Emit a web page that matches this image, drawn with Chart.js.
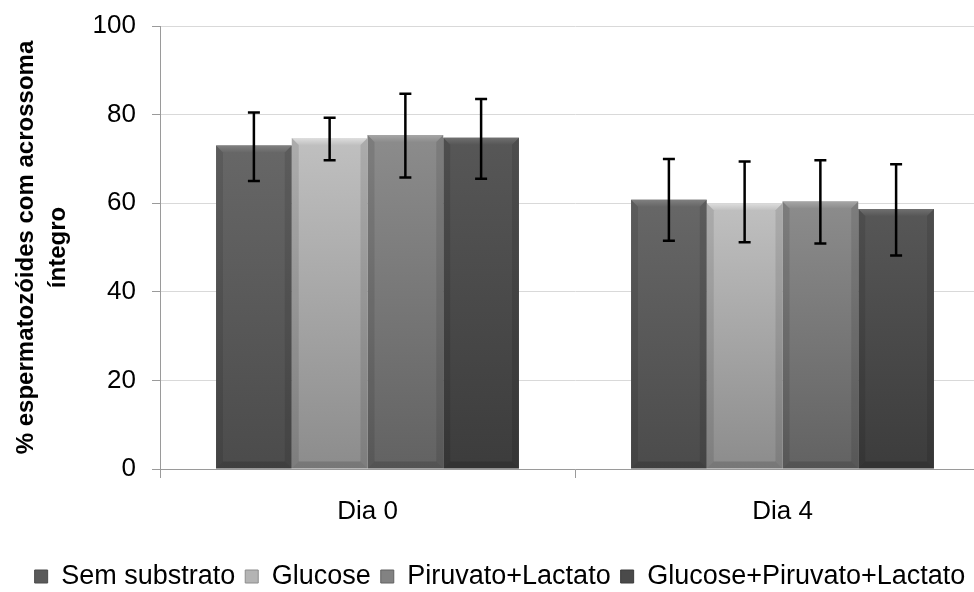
<!DOCTYPE html>
<html>
<head>
<meta charset="utf-8">
<script src="https://cdn.jsdelivr.net/npm/chart.js@4/dist/chart.umd.min.js"></script>
<style>
  html, body { margin: 0; padding: 0; background: #fff; overflow: hidden; width: 974px; height: 592px; }
  #wrap { width: 990px; height: 600px; }
</style>
</head>
<body>
<div id="wrap"><canvas id="grafica"></canvas></div>
<script>
const dias = ['Dia 0', 'Dia 4'];
const series = ['Sem substrato', 'Glucose', 'Piruvato+Lactato', 'Glucose+Piruvato+Lactato'];

const semSubstrato = [73.0, 60.8];
const glucose = [74.7, 60.0];
const piruvatoLactato = [75.4, 60.4];
const glucosePiruvatoLactato = [74.8, 58.7];

// extremos das barras de erro (superior / inferior)
const erroSuperior = [[80.5, 70.0], [79.3, 69.4], [84.7, 69.7], [83.5, 68.8]];
const erroInferior = [[65.0, 51.5], [69.7, 51.2], [65.8, 50.9], [65.5, 48.2]];

const yTicks = [0, 20, 40, 60, 80, 100];

// [topo, base, legenda, bisel]
const cores = [
    ['#676767', '#4b4b4b', '#5a5a5a', '#808080'],
    ['#c0c0c0', '#8c8c8c', '#b4b4b4', '#dedede'],
    ['#8c8c8c', '#626262', '#828282', '#a6a6a6'],
    ['#575757', '#3c3c3c', '#4a4a4a', '#707070']
];

const fonte = 'Liberation Sans, Arial, sans-serif';

function gradiente(i) {
    return function (ctx) {
        const chart = ctx.chart;
        const area = chart.chartArea;
        if (!area || !ctx.parsed) return cores[i][2];
        const topo = chart.scales.y.getPixelForValue(ctx.parsed.y);
        const g = chart.ctx.createLinearGradient(0, topo, 0, area.bottom);
        g.addColorStop(0, cores[i][0]);
        g.addColorStop(1, cores[i][1]);
        return g;
    };
}

// efeito de bisel nas barras
const bisel = {
    id: 'bisel',
    afterDatasetsDraw(chart) {
        const c = chart.ctx;
        chart.data.datasets.forEach((ds, i) => {
            chart.getDatasetMeta(i).data.forEach(bar => {
                const l = bar.x - bar.width / 2, r = bar.x + bar.width / 2;
                const t = bar.y, b = bar.base, e = 7;
                c.save();
                const g = c.createLinearGradient(0, t, 0, t + e);
                g.addColorStop(0, cores[i][3]);
                g.addColorStop(1, cores[i][0]);
                c.fillStyle = g;
                c.beginPath();
                c.moveTo(l, t); c.lineTo(r, t); c.lineTo(r - e, t + e); c.lineTo(l + e, t + e);
                c.closePath(); c.fill();
                c.fillStyle = 'rgba(0,0,0,0.10)';
                c.beginPath();
                c.moveTo(l, t); c.lineTo(l + e, t + e); c.lineTo(l + e, b - e); c.lineTo(l, b);
                c.closePath(); c.fill();
                c.beginPath();
                c.moveTo(r, t); c.lineTo(r - e, t + e); c.lineTo(r - e, b - e); c.lineTo(r, b);
                c.closePath(); c.fill();
                c.fillStyle = 'rgba(0,0,0,0.15)';
                c.beginPath();
                c.moveTo(l, b); c.lineTo(l + e, b - e); c.lineTo(r - e, b - e); c.lineTo(r, b);
                c.closePath(); c.fill();
                c.restore();
            });
        });
    }
};

const barrasErro = {
    id: 'barrasErro',
    afterDatasetsDraw(chart) {
        const c = chart.ctx;
        const y = chart.scales.y;
        c.save();
        c.strokeStyle = '#000';
        c.lineWidth = 2.5;
        chart.data.datasets.forEach((ds, i) => {
            chart.getDatasetMeta(i).data.forEach((bar, j) => {
                const x = bar.x;
                const yt = y.getPixelForValue(erroSuperior[i][j]);
                const yb = y.getPixelForValue(erroInferior[i][j]);
                c.beginPath();
                c.moveTo(x, yt); c.lineTo(x, yb);
                c.moveTo(x - 6, yt); c.lineTo(x + 6, yt);
                c.moveTo(x - 6, yb); c.lineTo(x + 6, yb);
                c.stroke();
            });
        });
        c.restore();
    }
};

const valores = [semSubstrato, glucose, piruvatoLactato, glucosePiruvatoLactato];

new Chart(document.getElementById('grafica'), {
    type: 'bar',
    data: {
        labels: dias,
        datasets: series.map((nome, i) => ({
            label: nome,
            data: valores[i],
            backgroundColor: gradiente(i),
            borderColor: cores[i][1],
            borderWidth: 0,
            barPercentage: 1,
            categoryPercentage: 0.73
        }))
    },
    options: {
        responsive: true,
        maintainAspectRatio: false,
        animation: false,
        layout: { padding: { left: 10, top: 26, right: 0, bottom: 0 } },
        plugins: {
            legend: {
                position: 'bottom',
                labels: {
                    color: '#000',
                    font: { family: fonte, size: 27 },
                    boxWidth: 13,
                    boxHeight: 13,
                    padding: 10,
                    generateLabels(chart) {
                        return series.map((nome, i) => ({
                            text: nome,
                            fillStyle: cores[i][2],
                            strokeStyle: cores[i][1],
                            lineWidth: 1,
                            datasetIndex: i
                        }));
                    }
                }
            },
            tooltip: { enabled: false }
        },
        scales: {
            x: {
                grid: { offset: true, drawOnChartArea: false, color: '#9a9a9a', tickLength: 9 },
                border: { color: '#9a9a9a' },
                ticks: { color: '#000', font: { family: fonte, size: 26 }, padding: 18 },
                afterFit(scale) { scale.height = 84; }
            },
            y: {
                min: 0,
                max: 100,
                afterBuildTicks(scale) { scale.ticks = yTicks.map(v => ({ value: v })); },
                grid: { color: '#d9d9d9', tickLength: 8, tickColor: '#9a9a9a' },
                border: { color: '#9a9a9a' },
                ticks: { color: '#000', font: { family: fonte, size: 26 }, padding: 16 },
                title: {
                    display: true,
                    text: ['% espermatozóides com acrossoma', 'íntegro'],
                    color: '#000',
                    font: { family: fonte, size: 24, weight: 'bold', lineHeight: 1.35 },
                    padding: { top: 0, bottom: 0 }
                },
                afterFit(scale) {
                    scale.width = 150;
                    scale.paddingTop = 0;
                    scale.paddingBottom = 0;
                }
            }
        }
    },
    plugins: [bisel, barrasErro]
});
</script>
</body>
</html>
